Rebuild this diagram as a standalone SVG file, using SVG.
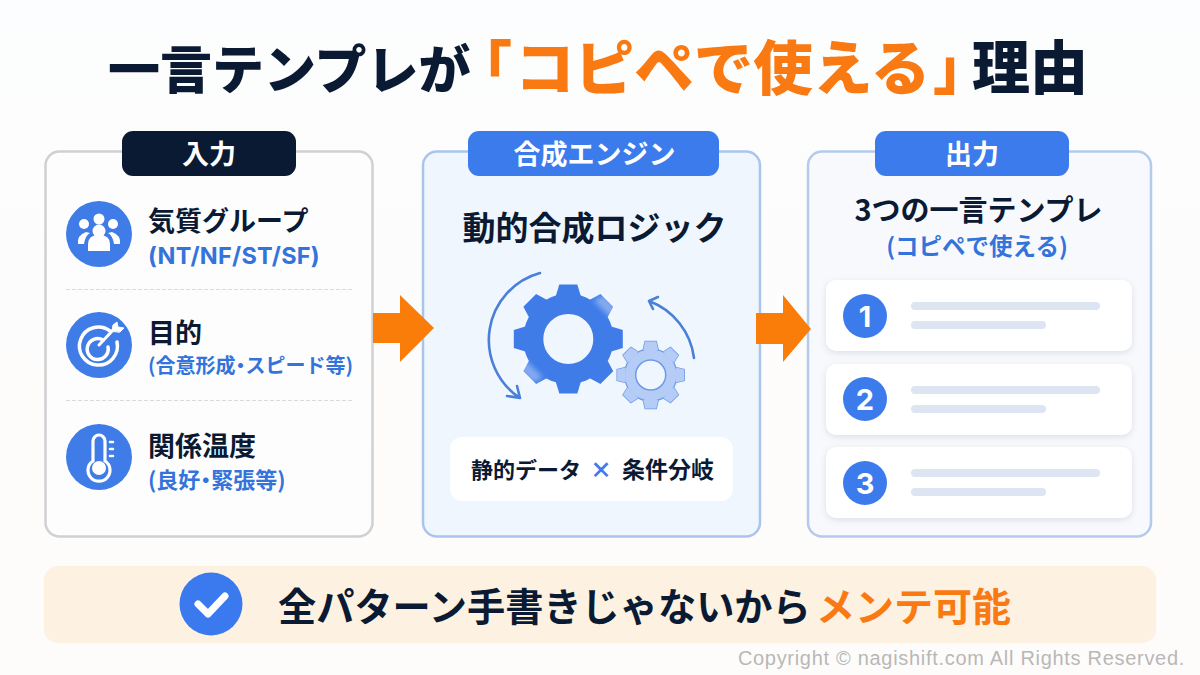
<svg xmlns="http://www.w3.org/2000/svg" width="1200" height="675" viewBox="0 0 1200 675">
<style>
text{font-family:"Noto Sans CJK JP","Noto Sans",sans-serif;font-weight:700}
.navy{fill:#0b1a33}.blue{fill:#3f7ce8}.btn{fill:#3b7bec}.org{fill:#f97a12}.w{fill:#fff}
.tt{font-weight:900}
.sub{fill:#3474da;font-size:21px}
.lat{font-family:"Inter","Noto Sans CJK JP",sans-serif;font-size:23.500px;letter-spacing:.25px}
.h{fill:#0b1a33;font-size:27px}
.halt{font-feature-settings:"halt"}
.num{font-family:"Inter",sans-serif}
.bar{fill:#dde5f2}
.card{fill:#fff;filter:url(#sh)}
.ic{fill:none;stroke:#fff;stroke-linecap:round}
.dash{stroke:#d8dadd;stroke-width:1.2;stroke-dasharray:4 2}
.arc{fill:none;stroke:#4a80d8;stroke-width:2.6;stroke-linecap:round;stroke-linejoin:round}
</style>
<defs>
<linearGradient id="bg" x1="0" y1="0" x2="0" y2="1"><stop offset="0" stop-color="#fcfdfe"/><stop offset="1" stop-color="#fefcfa"/></linearGradient>
<filter id="sh" x="-5%" y="-20%" width="110%" height="140%"><feDropShadow dx="0" dy="2" stdDeviation="3" flood-color="#8a9ab5" flood-opacity="0.28"/></filter>
<filter id="soft" x="-50%" y="-50%" width="200%" height="200%"><feGaussianBlur stdDeviation="2.500"/></filter>
<polygon id="t1" points="-12.500,-43 -9,-54.500 9,-54.500 12.500,-43"/>
<polygon id="t2" points="-7.500,-25 -5.500,-33.500 5.500,-33.500 7.500,-25"/>
</defs>
<rect width="1200" height="675" fill="url(#bg)"/>
<g id="title">
<text x="108" y="89" class="navy tt" font-size="52">一言テンプレが</text>
<text x="483" y="89" class="org tt halt" font-size="58">「</text>
<text x="515" y="90" class="org tt" font-size="59.600">コピペで使える</text>
<text x="933" y="89" class="org tt halt" font-size="58">」</text>
<text x="972" y="89" class="navy tt" font-size="58">理由</text>
</g>
<g id="input">
<rect x="45.500" y="151.500" width="327" height="385" rx="14" fill="#fdfdfe" stroke="#cfd0d2" stroke-width="2.500"/>
<rect x="122" y="131" width="174" height="45" rx="11" fill="#0a1a33"/>
<text x="209" y="164" text-anchor="middle" fill="#fff" font-size="27">入力</text>
<circle cx="99" cy="234" r="33" class="blue"/>
<g class="w">
<circle cx="84" cy="224" r="5"/><circle cx="99" cy="219" r="5.500"/><circle cx="113" cy="224" r="5"/>
<circle cx="99" cy="231" r="6.500"/>
<path d="M78 244q-1-9 8-12l4 1q-5 3-6 11zM120 244q1-9-8-12l-4 1q5 3 6 11z"/>
<path d="M88 251v-7q0-9 11-9t11 9v7z"/>
</g>
<text x="148" y="231" class="h">気質グループ</text>
<text x="148" y="264" class="sub lat">(NT/NF/ST/SF)</text>
<line x1="66" y1="289.500" x2="352" y2="289.500" class="dash"/>
<circle cx="99" cy="345" r="33" class="blue"/>
<g class="ic" stroke-width="3.500">
<path d="M110 331a19 19 0 1 0 7 11"/>
<path d="M103 340a10.500 10.500 0 1 0 5 7"/>
<path d="M99 345l16-17" stroke-width="3"/>
<path d="M112 331l1-6 4-3 1 5 6 1-4 4z" fill="#fff" stroke-width="1"/>
</g>
<text x="148" y="343" class="h">目的</text>
<text x="148" y="373" class="sub" style="font-size:20px">(合意形成<tspan class="halt">・</tspan>スピード等)</text>
<line x1="66" y1="400.500" x2="352" y2="400.500" class="dash"/>
<circle cx="99" cy="457" r="33" class="blue"/>
<g class="ic" stroke-width="3.200">
<path d="M93 449v-8a6 6 0 0 1 12 0v20a11 11 0 1 1-12 0z"/>
<path d="M110 442h3M110 449h3M110 456h3" stroke-width="2.500"/>
</g>
<circle cx="99" cy="468" r="7" class="w"/>
<text x="148" y="456" class="h">関係温度</text>
<text x="148" y="488" class="sub" style="font-size:22px">(良好<tspan class="halt">・</tspan>緊張等)</text>
</g>
<g id="engine">
<rect x="423" y="151.500" width="337" height="385" rx="14" fill="#f0f6fe" stroke="#a9c5ee" stroke-width="2.500"/>
<rect x="468" y="131" width="251" height="45" rx="11" class="btn"/>
<text x="594.500" y="164" text-anchor="middle" fill="#fff" font-size="27">合成エンジン</text>
<text x="594.500" y="240" text-anchor="middle" class="navy" font-size="33">動的合成ロジック</text>
<g id="big-gear" transform="translate(568.300 339)" fill="#3f7ce8">
<use href="#t1"/><use href="#t1" transform="rotate(45)"/><use href="#t1" transform="rotate(90)"/><use href="#t1" transform="rotate(135)"/><use href="#t1" transform="rotate(180)"/><use href="#t1" transform="rotate(225)"/><use href="#t1" transform="rotate(270)"/><use href="#t1" transform="rotate(315)"/>
<circle r="35" fill="none" stroke="#3f7ce8" stroke-width="20"/>
<use href="#t1" transform="rotate(45) translate(3 -2)" fill="#fff" opacity=".35" filter="url(#soft)"/><use href="#t1" transform="rotate(225) translate(3 -2)" fill="#fff" opacity=".35" filter="url(#soft)"/>
</g>
<g id="small-gear" transform="translate(650.700 375)" fill="#b5cdf6" stroke="#6f9be6" stroke-width="1.500">
<use href="#t2"/><use href="#t2" transform="rotate(45)"/><use href="#t2" transform="rotate(90)"/><use href="#t2" transform="rotate(135)"/><use href="#t2" transform="rotate(180)"/><use href="#t2" transform="rotate(225)"/><use href="#t2" transform="rotate(270)"/><use href="#t2" transform="rotate(315)"/>
<circle r="26"/>
<g stroke="none"><use href="#t2"/><use href="#t2" transform="rotate(45)"/><use href="#t2" transform="rotate(90)"/><use href="#t2" transform="rotate(135)"/><use href="#t2" transform="rotate(180)"/><use href="#t2" transform="rotate(225)"/><use href="#t2" transform="rotate(270)"/><use href="#t2" transform="rotate(315)"/><circle r="25.500"/></g>
<circle r="15" fill="#f0f6fe"/>
</g>
<path d="M540 273A69.500 69.500 0 0 0 520 398M507 396L520 398L517 386" class="arc"/>
<path d="M694 358A70 70 0 0 0 649 301M658 297L649 301L653 309" class="arc"/>
<rect x="450" y="437" width="283" height="64" rx="12" fill="#fff"/>
<text x="471" y="478" class="navy" font-size="22">静的データ</text>
<text x="601" y="478" text-anchor="middle" fill="#3b7bec" style="font-weight:900" font-size="22">×</text>
<text x="622" y="478" class="navy" font-size="23">条件分岐</text>
</g>
<g id="output">
<rect x="808" y="151.500" width="343" height="385" rx="14" fill="#f8f9fc" stroke="#b4cbec" stroke-width="2.500"/>
<rect x="875" y="131" width="194" height="45" rx="11" class="btn"/>
<text x="972" y="164" text-anchor="middle" fill="#fff" font-size="27">出力</text>
<text x="978.500" y="221" text-anchor="middle" class="navy" font-size="29">3つの一言テンプレ</text>
<text x="977" y="255" text-anchor="middle" class="sub" style="font-size:23.500px">(コピペで使える)</text>
<g id="item1"><rect x="826" y="280" width="306" height="71" rx="10" class="card"/><circle cx="865" cy="316" r="22" class="btn"/><text x="865" y="327" text-anchor="middle" fill="#fff" font-size="29" class="num">1</text><rect x="911" y="302" width="189" height="8" rx="4" class="bar"/><rect x="911" y="321" width="135" height="8" rx="4" class="bar"/></g>
<g id="item2"><rect x="826" y="364" width="306" height="71" rx="10" class="card"/><circle cx="865" cy="399" r="22" class="btn"/><text x="865" y="410" text-anchor="middle" fill="#fff" font-size="29" class="num">2</text><rect x="911" y="386" width="189" height="8" rx="4" class="bar"/><rect x="911" y="405" width="135" height="8" rx="4" class="bar"/></g>
<g id="item3"><rect x="826" y="447" width="306" height="71" rx="10" class="card"/><circle cx="865" cy="483" r="22" class="btn"/><text x="865" y="494" text-anchor="middle" fill="#fff" font-size="29" class="num">3</text><rect x="911" y="469" width="189" height="8" rx="4" class="bar"/><rect x="911" y="488" width="135" height="8" rx="4" class="bar"/></g>
</g>
<g id="connectors">
<polygon points="373,313 400,313 400,295 434,328 400,362 400,343 373,343" fill="#fa7d0a"/>
<polygon points="756,313 783,313 783,295 811,329 783,362 783,344 756,344" fill="#fa7d0a"/>
</g>
<g id="banner">
<rect x="44" y="566" width="1112" height="77" rx="14" fill="#fdf1e1"/>
<circle cx="211" cy="604" r="31.500" fill="#3a79ee"/>
<path d="M198 604l10 10 17-18" fill="none" stroke="#fff" stroke-width="7" stroke-linecap="round" stroke-linejoin="round"/>
<text x="278" y="621" class="navy" font-size="38.200">全パターン手書きじゃないから</text>
<text x="816" y="621" class="org" font-size="39">メンテ可能</text>
</g>
<text x="1185" y="665" text-anchor="end" fill="#b8b8b8" style="font-family:'Liberation Sans',sans-serif;font-weight:400;letter-spacing:.7px" font-size="20">Copyright © nagishift.com All Rights Reserved.</text>
</svg>
